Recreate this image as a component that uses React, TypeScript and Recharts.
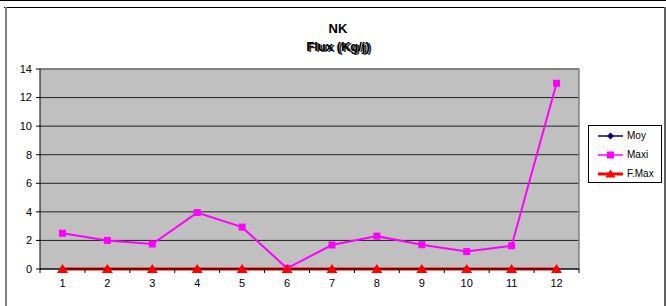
import React from 'react';
import { LineChart, Line, XAxis, YAxis, CartesianGrid, ReferenceLine } from 'recharts';

const categories = [1, 2, 3, 4, 5, 6, 7, 8, 9, 10, 11, 12];
const moy = [0, 0, 0, 0, 0, 0, 0, 0, 0, 0, 0, 0];
const maxi = [2.5, 2.0, 1.75, 3.95, 2.93, 0.05, 1.68, 2.3, 1.7, 1.22, 1.63, 13.0];
const fmax = [0, 0, 0, 0, 0, 0, 0, 0, 0, 0, 0, 0];
const yTicks = [0, 2, 4, 6, 8, 10, 12, 14];
const seriesNames = ['Moy', 'Maxi', 'F.Max'];
const title = 'NK';
const subtitle = 'Flux (Kg/j)';

const data = categories.map((c, i) => ({ x: c, moy: moy[i], maxi: maxi[i], fmax: fmax[i] }));
const xTicks: number[] = [];
categories.forEach((c) => { xTicks.push(c - 0.5); xTicks.push(c); });
xTicks.push(categories[categories.length - 1] + 0.5);

const FONT = '"Liberation Sans", Arial, sans-serif';
const NAVY = '#000080';
const MAGENTA = '#FF00FF';
const RED = '#FF0000';

const XTick = (props: any) => {
  const { x, y, payload } = props;
  const v = payload.value;
  const axisY = y - 8;
  if (Number.isInteger(v)) {
    return (
      <text x={x} y={y + 2} dy="0.75em" textAnchor="middle" fontSize={11} fontFamily={FONT} fill="#000">
        {v}
      </text>
    );
  }
  return <line x1={x} y1={axisY} x2={x} y2={axisY + 4} stroke="#000" strokeWidth={1} />;
};

const SquareDot = (props: any) => {
  const { cx, cy, index } = props;
  if (cx == null || cy == null) return <g key={`s${index}`} />;
  return <rect key={`s${index}`} x={cx - 3.5} y={cy - 3.5} width={7} height={7} fill={MAGENTA} />;
};
const TriDot = (props: any) => {
  const { cx, cy, index } = props;
  if (cx == null || cy == null) return <g key={`t${index}`} />;
  return <polygon key={`t${index}`} points={`${cx},${cy - 5} ${cx - 5.5},${cy + 4} ${cx + 5.5},${cy + 4}`} fill={RED} />;
};
const DiamondDot = (props: any) => {
  const { cx, cy, index } = props;
  if (cx == null || cy == null) return <g key={`d${index}`} />;
  return <polygon key={`d${index}`} points={`${cx},${cy - 3.5} ${cx + 3.5},${cy} ${cx},${cy + 3.5} ${cx - 3.5},${cy}`} fill={NAVY} />;
};

const LegendBox = () => {
  const items = [
    { name: seriesNames[0], color: NAVY, w: 1.5, m: 'd' },
    { name: seriesNames[1], color: MAGENTA, w: 1.5, m: 's' },
    { name: seriesNames[2], color: RED, w: 3, m: 't' },
  ];
  return (
    <div style={{ position: 'absolute', left: 588, top: 125, border: '1px solid #000', width: 74, height: 58, boxSizing: 'border-box', paddingTop: 0, background: '#fff' }}>
      {items.map((it) => (
        <div key={it.name} style={{ display: 'flex', alignItems: 'center', height: 19 }}>
          <svg width={38} height={12} style={{ display: 'block', flex: 'none' }}>
            <line x1={9} y1={6} x2={34} y2={6} stroke={it.color} strokeWidth={it.w} />
            {it.m === 'd' && <polygon points="21.5,2.5 25,6 21.5,9.5 18,6" fill={it.color} />}
            {it.m === 's' && <rect x={18} y={2.5} width={7} height={7} fill={it.color} />}
            {it.m === 't' && <polygon points="21.5,1.5 16.5,9.5 26.5,9.5" fill={it.color} />}
          </svg>
          <span style={{ fontFamily: FONT, fontSize: 10, color: '#000', lineHeight: '12px' }}>{it.name}</span>
        </div>
      ))}
    </div>
  );
};

export default function App() {
  return (
    <div style={{ position: 'absolute', left: 0, top: 0, width: 666, height: 306, background: '#fff', overflow: 'hidden' }}>
      <div style={{ position: 'absolute', left: 0, top: 0, width: 666, height: 1, background: '#000' }} />
      <div style={{ position: 'absolute', left: 4, top: 7, width: 662, height: 1, background: '#000' }} />
      <div style={{ position: 'absolute', left: 5, top: 7, width: 2, height: 299, background: '#808080' }} />
      <div style={{ position: 'absolute', left: 664, top: 7, width: 2, height: 299, background: '#606060' }} />
      <div style={{ position: 'absolute', left: 0, top: 0 }}>
        <LineChart width={666} height={306} data={data} margin={{ top: 69, right: 87, bottom: 0, left: 0 }}>
          <CartesianGrid vertical={false} horizontal={true} stroke="#222" fill="#C0C0C0" fillOpacity={1} />
          <XAxis
            dataKey="x"
            type="number"
            domain={[0.5, 12.5]}
            ticks={xTicks}
            interval={0}
            height={37}
            tickLine={false}
            tickSize={4}
            tickMargin={4}
            axisLine={{ stroke: '#000' }}
            tick={<XTick />}
          />
          <YAxis
            domain={[0, 14]}
            ticks={yTicks}
            interval={0}
            width={40}
            tickSize={4}
            tickMargin={4}
            axisLine={{ stroke: '#000' }}
            tickLine={{ stroke: '#000' }}
            tick={{ fill: '#000', fontSize: 11, fontFamily: FONT }}
          />
          <ReferenceLine y={14} stroke="#808080" strokeWidth={1.5} />
          <ReferenceLine x={12.5} stroke="#808080" strokeWidth={1.5} />
          <Line dataKey="moy" stroke={NAVY} strokeWidth={1.5} dot={<DiamondDot />} isAnimationActive={false} name={seriesNames[0]} />
          <Line dataKey="maxi" stroke={MAGENTA} strokeWidth={2} dot={<SquareDot />} isAnimationActive={false} name={seriesNames[1]} />
          <Line dataKey="fmax" stroke={RED} strokeWidth={3} dot={<TriDot />} isAnimationActive={false} name={seriesNames[2]} />
        </LineChart>
      </div>
      <div style={{ position: 'absolute', left: 238, top: 21, width: 200, textAlign: 'center', fontFamily: FONT, fontSize: 13, fontWeight: 'bold' }}>
        {title}
      </div>
      <div style={{ position: 'absolute', left: 238, top: 39, width: 200, textAlign: 'center', fontFamily: FONT, fontSize: 13, fontWeight: 'bold', color: '#000', textShadow: '2px 1px 0 rgba(0,0,0,0.8)' }}>
        {subtitle}
      </div>
      <LegendBox />
    </div>
  );
}
